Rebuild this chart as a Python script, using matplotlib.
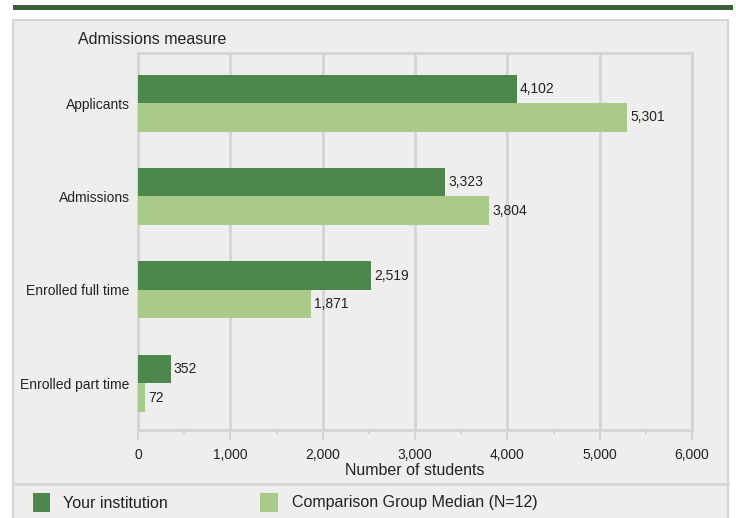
import matplotlib
matplotlib.use("Agg")
import matplotlib.pyplot as plt
from matplotlib.patches import Rectangle
from matplotlib.lines import Line2D
from matplotlib.ticker import MultipleLocator, FuncFormatter

plt.rcParams['font.family'] = ['Liberation Sans', 'DejaVu Sans']

categories = ["Applicants", "Admissions", "Enrolled full time", "Enrolled part time"]
your_institution = [4102, 3323, 2519, 352]
comparison_median = [5301, 3804, 1871, 72]
series_names = ["Your institution", "Comparison Group Median (N=12)"]
x_ticks = [0, 1000, 2000, 3000, 4000, 5000, 6000]

DARK = "#4e874c"
LIGHT = "#a9ca88"
PANEL = "#eeeeee"
BORDER = "#d6d6d6"
GRID = "#d4d4d4"

W, H = 736, 518
fig = plt.figure(figsize=(W / 100, H / 100), dpi=100)
fig.patch.set_facecolor("white")

def fx(x):
    return x / W

def fy(y):
    return 1 - y / H

# top dark band
fig.patches.append(Rectangle((fx(13), fy(10)), fx(733) - fx(13), fy(5) - fy(10),
                             transform=fig.transFigure, facecolor="#3b5f36",
                             edgecolor="none", zorder=0))
# gray panel
fig.patches.append(Rectangle((fx(13), fy(520)), fx(728) - fx(13), fy(20) - fy(520),
                             transform=fig.transFigure, facecolor=PANEL,
                             edgecolor=BORDER, linewidth=1.5, zorder=0))
# separator above legend
fig.lines.append(Line2D([fx(13), fx(728)], [fy(484), fy(484)], transform=fig.transFigure,
                        color=BORDER, linewidth=2, zorder=1))

left, right, top, bottom = 138, 692, 53, 430
ax = fig.add_axes([fx(left), fy(bottom), fx(right) - fx(left), fy(top) - fy(bottom)])
ax.set_zorder(5)
ax.set_facecolor(PANEL)

bh = 0.305
ys = list(range(len(categories)))
ax.barh([y - bh / 2 for y in ys], your_institution, height=bh, color=DARK, zorder=3)
ax.barh([y + bh / 2 for y in ys], comparison_median, height=bh, color=LIGHT, zorder=3)

for y, v in zip(ys, your_institution):
    ax.text(v + 35, y - bh / 2, f"{v:,}", va="center", ha="left", fontsize=10, color="#222222", zorder=4)
for y, v in zip(ys, comparison_median):
    ax.text(v + 35, y + bh / 2, f"{v:,}", va="center", ha="left", fontsize=10, color="#222222", zorder=4)

ax.set_xlim(0, 6000)
ax.set_ylim(3.5, -0.536)
ax.set_yticks(ys)
ax.set_yticklabels(categories, fontsize=10, color="#222222")
ax.tick_params(axis="y", length=0, pad=6)

ax.set_xticks(x_ticks)
ax.xaxis.set_major_formatter(FuncFormatter(lambda v, p: f"{int(v):,}"))
ax.xaxis.set_minor_locator(MultipleLocator(500))
ax.tick_params(axis="x", which="major", length=7, width=1.5, color=GRID, labelsize=10,
               labelcolor="#222222", pad=6)
ax.tick_params(axis="x", which="minor", length=3, width=1.5, color=GRID)
ax.grid(axis="x", which="major", color=GRID, linewidth=2, zorder=0)
ax.set_axisbelow(True)

for s in ["top", "right", "bottom", "left"]:
    ax.spines[s].set_color(GRID)
    ax.spines[s].set_linewidth(2)

ax.set_xlabel("Number of students", fontsize=11.5, color="#222222", labelpad=1)

fig.text(fx(78), fy(40), "Admissions measure", fontsize=11.5, color="#222222",
         ha="left", va="center")

# legend
fig.patches.append(Rectangle((fx(33), fy(512)), fx(50) - fx(33), fy(493) - fy(512),
                             transform=fig.transFigure, facecolor=DARK, edgecolor="none", zorder=2))
fig.text(fx(63), fy(503), series_names[0], fontsize=11.5, color="#222222", ha="left", va="center")
fig.patches.append(Rectangle((fx(260), fy(512)), fx(278) - fx(260), fy(493) - fy(512),
                             transform=fig.transFigure, facecolor=LIGHT, edgecolor="none", zorder=2))
fig.text(fx(292), fy(503), series_names[1], fontsize=11.5, color="#222222", ha="left", va="center")

fig.savefig("out.png", dpi=100, facecolor="white")
